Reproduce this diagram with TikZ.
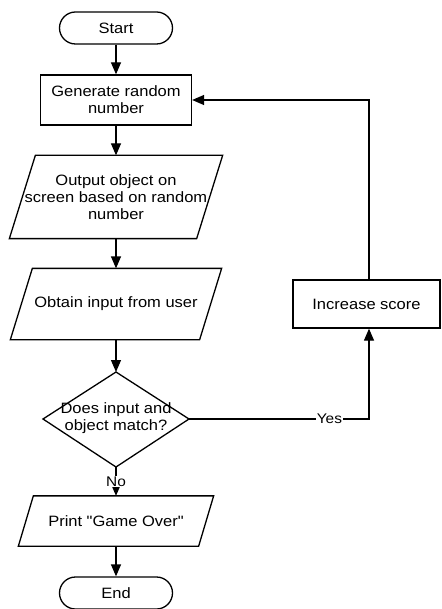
\documentclass[tikz,border=0pt]{standalone}
\usepackage{fontspec}
\setmainfont{Liberation Sans}[FakeStretch=1.1,Ligatures=TeXOff]
\usetikzlibrary{arrows.meta}
\newcommand\paral[2]{\draw ([xshift=#2]#1.north west) -- ([xshift=#2]#1.north east) -- ([xshift=-#2]#1.south east) -- ([xshift=-#2]#1.south west) -- cycle;}
\begin{document}
\begin{tikzpicture}[x=1pt,y=-1pt,line width=1.3pt,
  every node/.style={font=\fontsize{15}{17}\selectfont,align=center,inner sep=0pt},
  arr/.style={-{Triangle[length=12pt,width=10pt]}},
  term/.style={draw,rounded corners=16pt,minimum width=113pt,minimum height=32pt},
  proc/.style={draw,minimum width=151pt,minimum height=50pt},
  iobox/.style={draw=none},
  lbl/.style={fill=white,inner sep=1pt,font=\fontsize{14}{16}\selectfont}]
\useasboundingbox (0,0) rectangle (441,609);
\node[term] (start) at (116,28) {Start};
\node[proc] (gen) at (116,100) {Generate random\\number};
\node[iobox,minimum width=186pt,minimum height=82pt] (out) at (116,197) {Output object on\\screen based on random\\number};
\paral{out}{13pt}
\node[iobox,minimum width=188pt,minimum height=70pt] (inp) at (116,304) {Obtain input from user};
\paral{inp}{11pt}
\node (dec) at (116,418) {Does input and\\object match?};
\coordinate (dt) at (116,372);
\coordinate (dr) at (189,419);
\coordinate (db) at (116,467);
\coordinate (dl) at (43,419);
\draw (dt) -- (dr) -- (db) -- (dl) -- cycle;
\node[iobox,minimum width=179pt,minimum height=49pt] (pr) at (116,521) {Print "Game Over"};
\paral{pr}{7.5pt}
\node[term] (end) at (116,593) {End};
\node[proc,minimum width=147pt,minimum height=48pt] (inc) at (366.5,304) {Increase score};
\coordinate (c1) at (369,100);
\coordinate (c2) at (369,419);
\draw[arr] (start) -- (gen);
\draw[arr] (gen) -- (out);
\draw[arr] (out) -- (inp);
\draw[arr] (inp) -- (dt);
\draw[arr] (db) -- node[lbl] {No} (pr);
\draw[arr] (pr) -- (end);
\draw[arr] (dr) -- node[lbl,pos=0.78] {Yes} (c2) -- (inc.south -| c2);
\draw[arr] (inc.north -| c1) -- (c1) -- (gen.east |- c1);
\end{tikzpicture}
\end{document}
